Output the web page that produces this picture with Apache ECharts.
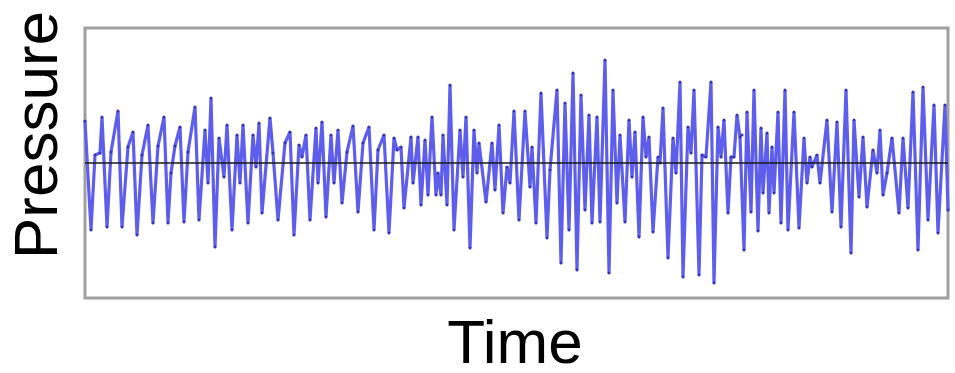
<!DOCTYPE html>
<html>
<head>
<meta charset="utf-8">
<script src="https://cdn.jsdelivr.net/npm/echarts@6/dist/echarts.min.js"></script>
<style>
html,body{margin:0;padding:0;background:#fff;}
#chart{width:955px;height:373px;}
</style>
</head>
<body>
<div id="chart"></div>
<script>
// Time samples (turning points of the waveform)
const time = [0,6,10,15,17,22,26,33,37,43,48,52,57,63,68,73,79,83,86,90,95,99,103,110,114,120,123,126,130,134,139,142,147,152,155,158,163,168,171,174,177,185,188,193,200,205,209,214,217,221,225,231,233,237,241,246,249,253,257,262,268,273,278,284,289,293,299,304,309,312,316,319,326,328,333,336,340,343,347,351,353,356,358,362,365,369,375,378,381,385,389,392,394,401,407,410,414,418,422,425,429,434,440,445,447,451,456,462,465,472,476,480,484,488,492,496,500,504,507,512,515,520,524,528,532,535,540,544,547,550,554,558,561,564,568,573,575,578,583,588,591,595,598,603,606,609,614,617,621,626,629,633,636,639,643,646,649,652,655,657,659,662,666,669,673,676,678,682,684,687,689,693,696,700,703,709,714,719,722,725,727,732,735,742,747,752,756,761,766,769,774,778,782,788,792,795,798,802,807,814,818,823,828,833,838,843,849,853,860,863];
// Pressure values at those samples
const pressure = [42,-67,8,10,46,-64,11,52,-64,16,31,-72,8,38,-60,17,46,-60,-10,17,36,-59,11,56,-57,33,-20,65,-84,25,-14,38,-67,28,-20,38,-60,28,-4,40,-50,45,10,-57,20,31,-72,18,6,28,-57,35,-20,41,-54,28,-20,33,-40,11,37,-49,20,36,-67,13,28,-70,25,13,16,-45,26,-20,26,-42,23,-32,46,-32,-10,-32,28,-42,78,-67,33,-14,46,-85,33,-10,20,-39,20,-27,38,-50,-4,-20,52,-57,52,-24,16,-60,70,-75,-7,73,-100,60,-67,90,-107,68,-47,48,-60,46,-59,103,-110,73,-40,28,-59,43,-14,31,-74,46,6,26,-69,6,0,55,-95,25,-10,81,-114,36,10,73,-112,8,6,81,-120,36,6,43,-50,6,6,48,26,28,-87,51,-49,73,-68,35,-30,30,-50,16,-30,51,-60,73,-67,51,-65,25,-20,6,-4,8,-20,43,-49,41,-64,73,-90,43,-34,26,-44,13,-10,33,-32,-10,25,-50,25,-45,71,-87,76,-57,58,-70,58,-47];
const xName = 'Time';
const yName = 'Pressure';

const data = time.map((t, i) => [t, pressure[i]]);
const chart = echarts.init(document.getElementById('chart'), null, {renderer: 'canvas'});
chart.setOption({
  animation: false,
  backgroundColor: '#ffffff',
  grid: {left: 85, right: 7, top: 28, bottom: 75, show: true, borderColor: '#a0a0a0', borderWidth: 3, backgroundColor: '#ffffff'},
  xAxis: {
    type: 'value', min: 0, max: 863,
    axisLine: {show: false}, axisTick: {show: false}, axisLabel: {show: false}, splitLine: {show: false}
  },
  yAxis: {
    type: 'value', min: -135, max: 135,
    axisLine: {show: false}, axisTick: {show: false}, axisLabel: {show: false}, splitLine: {show: false}
  },
  graphic: [
    {type: 'text', x: 40, y: 135, rotation: Math.PI / 2,
     style: {text: yName, font: '62px "Liberation Sans", Arial, sans-serif', fill: '#000', textAlign: 'center', textVerticalAlign: 'middle'}},
    {type: 'text', x: 515, y: 346,
     style: {text: xName, font: '62px "Liberation Sans", Arial, sans-serif', fill: '#000', textAlign: 'center', textVerticalAlign: 'middle'}}
  ],
  series: [{
    type: 'line',
    data: data,
    showSymbol: true,
    symbol: 'circle',
    symbolSize: 3,
    itemStyle: {color: '#3434b4'},
    lineStyle: {color: '#5e5eec', width: 3.2},
    markLine: {
      silent: true, symbol: 'none', label: {show: false},
      lineStyle: {color: '#1a1a1a', width: 1.5, type: 'solid'},
      data: [{yAxis: 0}]
    }
  }]
});
</script>
</body>
</html>
